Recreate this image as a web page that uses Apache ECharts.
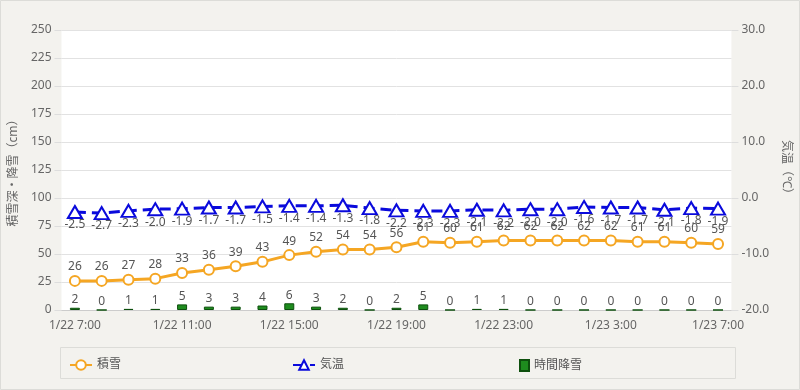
<!DOCTYPE html>
<html>
<head>
<meta charset="utf-8">
<script src="https://cdn.jsdelivr.net/npm/echarts@6/dist/echarts.min.js"></script>
<style>
html,body{margin:0;padding:0;background:#f3f2ee;}
#c{width:800px;height:390px;}
</style>
</head>
<body>
<div id="c"></div>
<script>
const categories = ['1/22 7:00','1/22 8:00','1/22 9:00','1/22 10:00','1/22 11:00','1/22 12:00','1/22 13:00','1/22 14:00','1/22 15:00','1/22 16:00','1/22 17:00','1/22 18:00','1/22 19:00','1/22 20:00','1/22 21:00','1/22 22:00','1/22 23:00','1/23 0:00','1/23 1:00','1/23 2:00','1/23 3:00','1/23 4:00','1/23 5:00','1/23 6:00','1/23 7:00'];
const snowDepth = [26,26,27,28,33,36,39,43,49,52,54,54,56,61,60,61,62,62,62,62,62,61,61,60,59];
const temperature = [-2.5,-2.7,-2.3,-2.0,-1.9,-1.7,-1.7,-1.5,-1.4,-1.4,-1.3,-1.8,-2.2,-2.3,-2.3,-2.1,-2.2,-2.0,-2.0,-1.6,-1.7,-1.7,-2.1,-1.8,-1.9];
const hourlySnow = [2,0,1,1,5,3,3,4,6,3,2,0,2,5,0,1,1,0,0,0,0,0,0,0,0];
const leftTicks = {min:0, max:250, interval:25};
const rightTicks = {min:-20, max:30, interval:10};

const FONT = "'Noto Sans', 'Noto Sans CJK JP', sans-serif";
const chart = echarts.init(document.getElementById('c'));
const legendCommon = {
  top: 354, textStyle:{color:'#555', fontSize:12, fontFamily:FONT}, selectedMode:false
};
chart.setOption({
  backgroundColor:'#f3f2ee',
  animation:false,
  textStyle:{fontFamily:FONT},
  grid:{left:60, right:64, top:30, bottom:80, show:true, backgroundColor:'#ffffff', borderWidth:0},
  graphic:[
    {type:'rect', shape:{x:0.5,y:0.5,width:799,height:389}, style:{fill:'none', stroke:'#dcdcd8', lineWidth:1}, silent:true},
    {type:'rect', shape:{x:60.5,y:347.5,width:675,height:31}, style:{fill:'none', stroke:'#dcdcd8', lineWidth:1}, silent:true}
  ],
  legend:[
    Object.assign({left:64, data:['積雪'], itemWidth:22, itemHeight:12}, legendCommon),
    Object.assign({left:287, data:['気温'], itemWidth:22, itemHeight:12}, legendCommon),
    Object.assign({left:514, data:[{name:'時間降雪', icon:'rect'}], itemWidth:9, itemHeight:11, itemGap:10}, legendCommon)
  ],
  xAxis:{
    type:'category', data:categories, boundaryGap:true,
    axisLine:{lineStyle:{color:'#cccccc'}},
    axisTick:{show:false},
    axisLabel:{interval:3, color:'#666', fontSize:12, margin:10, fontFamily:FONT}
  },
  yAxis:[
    {
      type:'value', min:leftTicks.min, max:leftTicks.max, interval:leftTicks.interval,
      name:'積雪深・降雪（cm）', nameLocation:'middle', nameGap:40, nameRotate:90,
      nameTextStyle:{color:'#666', fontSize:12, fontFamily:FONT},
      axisLine:{show:false},
      axisTick:{show:true, length:7, lineStyle:{color:'#dddddd'}},
      axisLabel:{color:'#666', fontSize:12, margin:10, fontFamily:FONT},
      splitLine:{lineStyle:{color:'#e2e2e2'}}
    },
    {
      type:'value', position:'right', min:rightTicks.min, max:rightTicks.max, interval:rightTicks.interval,
      name:'気温（℃）', nameLocation:'middle', nameGap:47, nameRotate:-90,
      nameTextStyle:{color:'#666', fontSize:12, fontFamily:FONT},
      axisLine:{show:false},
      axisTick:{show:true, length:7, lineStyle:{color:'#dddddd'}},
      axisLabel:{color:'#666', fontSize:12, margin:10, fontFamily:FONT, formatter:v=>v.toFixed(1)},
      splitLine:{show:false}
    }
  ],
  series:[
    {
      name:'時間降雪', type:'bar', yAxisIndex:0, data:hourlySnow, barWidth:10, z:1,
      itemStyle:{color:'#1e8c1e', borderColor:'#0d4f0d', borderWidth:1},
      label:{show:true, position:'top', distance:2, color:'#555', fontSize:12, fontFamily:FONT}
    },
    {
      name:'積雪', type:'line', yAxisIndex:0, data:snowDepth, z:3,
      symbol:'circle', symbolSize:10, showAllSymbol:true,
      lineStyle:{color:'#f5a623', width:3},
      itemStyle:{color:'#ffffff', borderColor:'#f5a623', borderWidth:2},
      label:{show:true, position:'top', distance:2, color:'#555', fontSize:12, fontFamily:FONT}
    },
    {
      name:'気温', type:'line', yAxisIndex:1, data:temperature, z:4,
      symbol:'triangle', symbolSize:[14,12], showAllSymbol:true,
      lineStyle:{color:'#0a0adc', width:3, type:[11,6]},
      itemStyle:{color:'#ffffff', borderColor:'#0a0adc', borderWidth:2},
      label:{show:true, position:'bottom', distance:0, color:'#555', fontSize:12, fontFamily:FONT, formatter:p=>p.value.toFixed(1)}
    }
  ]
});
</script>
</body>
</html>
